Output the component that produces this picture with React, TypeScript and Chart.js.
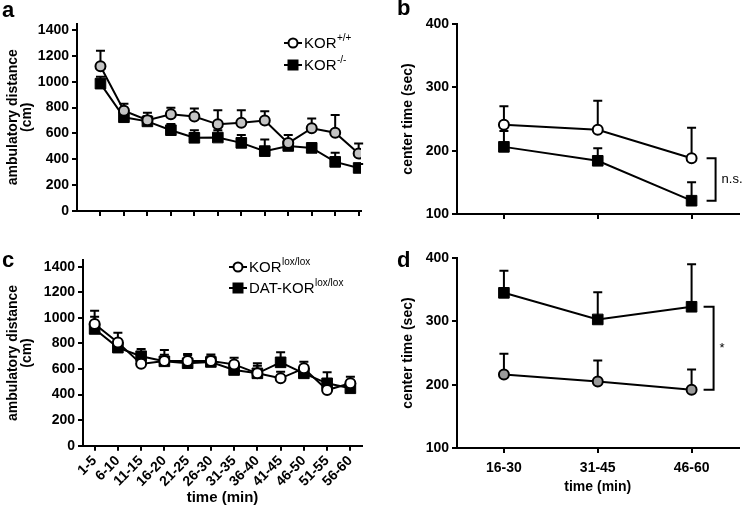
import React, { useEffect, useRef } from 'react';
import { Chart, registerables } from 'chart.js';

Chart.register(...registerables);

const FONT = '"Liberation Sans", Arial, Helvetica, sans-serif';

// ---------- data ----------
const intervals5 = ['1-5', '6-10', '11-15', '16-20', '21-25', '26-30', '31-35', '36-40', '41-45', '46-50', '51-55', '56-60'];
const intervals15 = ['16-30', '31-45', '46-60'];
const distTicks = [0, 200, 400, 600, 800, 1000, 1200, 1400];
const centerTicks = [100, 200, 300, 400];

// panel a: ambulatory distance, KOR+/+ vs KOR-/-
const korWtDist = [1120, 775, 702, 748, 730, 670, 682, 700, 525, 640, 605, 444];
const korWtDistSem = [120, 55, 58, 50, 63, 110, 98, 72, 62, 76, 137, 78];
const korKoDist = [985, 725, 693, 625, 566, 568, 527, 463, 503, 488, 380, 333];
const korKoDistSem = [54, 40, 40, 47, 59, 57, 60, 90, 40, 34, 70, 30];

// panel b: center time, KOR+/+ vs KOR-/-
const korWtCenter = [241, 233, 188];
const korWtCenterSem = [29, 46, 48];
const korKoCenter = [206, 184, 121];
const korKoCenterSem = [25, 20, 29];

// panel c: ambulatory distance, KORlox/lox vs DAT-KORlox/lox
const floxDist = [952, 808, 640, 662, 662, 662, 636, 566, 527, 605, 435, 488];
const floxDistSem = [104, 76, 40, 50, 55, 52, 52, 78, 52, 52, 40, 52];
const datKoDist = [913, 767, 700, 660, 645, 655, 592, 566, 652, 566, 488, 449];
const datKoDistSem = [96, 40, 56, 88, 62, 45, 40, 60, 78, 40, 86, 40];

// panel d: center time, KORlox/lox vs DAT-KORlox/lox
const floxCenter = [216, 205, 192];
const floxCenterSem = [33, 33, 32];
const datKoCenter = [345, 303, 323];
const datKoCenterSem = [35, 43, 67];

// ---------- helpers ----------
type LegendItem = { x: number; y: number; label: string; sup: string; marker: 'circle' | 'rect'; fill: string };
type Bracket = { idx: number; a: number; b: number; dx1: number; dx2: number; text: string; size: number };
type Annot = { letter: string; lx: number; ly: number; legend: LegendItem[]; bracket?: Bracket };

function errorBarPlugin(sems: number[][]) {
  return {
    id: 'errBars',
    beforeDatasetsDraw(chart: any) {
      const ctx = chart.ctx;
      const yScale = chart.scales.y;
      ctx.save();
      ctx.strokeStyle = '#000';
      ctx.lineWidth = 2;
      sems.forEach((sem, di) => {
        const meta = chart.getDatasetMeta(di);
        const values = chart.data.datasets[di].data;
        meta.data.forEach((pt: any, i: number) => {
          const raw = values[i];
          const v = typeof raw === 'number' ? raw : raw.y;
          const yTop = yScale.getPixelForValue(v + sem[i]);
          ctx.beginPath();
          ctx.moveTo(pt.x, pt.y);
          ctx.lineTo(pt.x, yTop);
          ctx.moveTo(pt.x - 4.5, yTop);
          ctx.lineTo(pt.x + 4.5, yTop);
          ctx.stroke();
        });
      });
      ctx.restore();
    },
  };
}

function annotPlugin(a: Annot) {
  return {
    id: 'annot',
    afterDraw(chart: any) {
      const ctx = chart.ctx;
      ctx.save();
      ctx.fillStyle = '#000';
      ctx.font = `bold 22px ${FONT}`;
      ctx.textBaseline = 'alphabetic';
      ctx.textAlign = 'left';
      ctx.fillText(a.letter, a.lx, a.ly);
      a.legend.forEach((item) => {
        ctx.strokeStyle = '#000';
        ctx.lineWidth = 2;
        ctx.beginPath();
        ctx.moveTo(item.x - 9, item.y);
        ctx.lineTo(item.x + 9, item.y);
        ctx.stroke();
        if (item.marker === 'circle') {
          ctx.beginPath();
          ctx.arc(item.x, item.y, 4.5, 0, Math.PI * 2);
          ctx.fillStyle = item.fill;
          ctx.fill();
          ctx.stroke();
        } else {
          ctx.fillStyle = '#000';
          ctx.fillRect(item.x - 5.5, item.y - 5.5, 11, 11);
        }
        ctx.fillStyle = '#000';
        ctx.font = `15px ${FONT}`;
        ctx.textBaseline = 'middle';
        const tx = item.x + 11;
        ctx.fillText(item.label, tx, item.y + 1);
        const w = ctx.measureText(item.label).width;
        ctx.font = `10px ${FONT}`;
        ctx.fillText(item.sup, tx + w + 0.5, item.y - 5);
      });
      if (a.bracket) {
        const br = a.bracket;
        const pa = chart.getDatasetMeta(br.a).data[br.idx];
        const pb = chart.getDatasetMeta(br.b).data[br.idx];
        const x1 = pa.x + br.dx1;
        const x2 = pa.x + br.dx2;
        ctx.strokeStyle = '#000';
        ctx.lineWidth = 2;
        ctx.beginPath();
        ctx.moveTo(x1, pa.y);
        ctx.lineTo(x2, pa.y);
        ctx.lineTo(x2, pb.y);
        ctx.lineTo(x1, pb.y);
        ctx.stroke();
        ctx.fillStyle = '#000';
        ctx.font = `${br.size}px ${FONT}`;
        ctx.textBaseline = 'middle';
        ctx.fillText(br.text, x2 + 6, (pa.y + pb.y) / 2);
      }
      ctx.restore();
    },
  };
}

const axisGrid = { drawOnChartArea: false, drawTicks: true, tickLength: 5, color: '#000', lineWidth: 2 };
const axisBorder = { display: true, color: '#000', width: 2 };

function yAxis(min: number, max: number, ticks: number[], width: number, title: string | string[]) {
  return {
    type: 'linear',
    min,
    max,
    afterBuildTicks: (s: any) => {
      s.ticks = ticks.map((v) => ({ value: v }));
    },
    afterFit: (s: any) => {
      s.width = width;
    },
    grid: axisGrid,
    border: axisBorder,
    ticks: {
      color: '#000',
      font: { family: FONT, size: 14, weight: 'bold' },
      padding: 3,
      callback: (v: any) => String(v),
    },
    title: {
      display: true,
      text: title,
      color: '#000',
      font: { family: FONT, size: 14, weight: 'bold', lineHeight: 1 },
      padding: 0,
    },
  };
}

function circleSet(label: string, data: any[], fill: string) {
  return {
    label,
    data,
    borderColor: '#000',
    borderWidth: 2,
    pointStyle: 'circle',
    pointRadius: 5,
    pointBorderWidth: 2,
    pointBackgroundColor: fill,
    pointBorderColor: '#000',
    tension: 0,
  };
}

function squareSet(label: string, data: any[]) {
  return {
    label,
    data,
    borderColor: '#000',
    borderWidth: 2,
    pointStyle: 'rect',
    pointRadius: 7.5,
    pointBorderWidth: 1,
    pointBackgroundColor: '#000',
    pointBorderColor: '#000',
    tension: 0,
  };
}

const baseOpts = (padding: any) => ({
  animation: false,
  responsive: false,
  devicePixelRatio: 1,
  layout: { padding },
  plugins: { legend: { display: false }, tooltip: { enabled: false } },
});

function buildA(): any {
  return {
    type: 'line',
    data: {
      datasets: [
        circleSet('KOR+/+', korWtDist.map((y, i) => ({ x: i + 1, y })), '#c4c4c4'),
        squareSet('KOR-/-', korKoDist.map((y, i) => ({ x: i + 1, y }))),
      ],
    },
    options: {
      ...baseOpts({ left: 6, top: 23.5, right: 14, bottom: 7 }),
      scales: {
        x: {
          type: 'linear',
          min: 0,
          max: 12.1,
          afterBuildTicks: (s: any) => {
            s.ticks = intervals5.map((_, i) => ({ value: i + 1 }));
          },
          afterFit: (s: any) => {
            s.height = 10;
          },
          grid: axisGrid,
          border: axisBorder,
          ticks: { display: false },
        },
        y: yAxis(0, 1450, distTicks, 71, ['ambulatory distance', '(cm)']),
      },
    },
    plugins: [
      errorBarPlugin([korWtDistSem, korKoDistSem]),
      annotPlugin({
        letter: 'a',
        lx: 2,
        ly: 17,
        legend: [
          { x: 293, y: 43, label: 'KOR', sup: '+/+', marker: 'circle', fill: '#fff' },
          { x: 293, y: 65, label: 'KOR', sup: '-/-', marker: 'rect', fill: '#000' },
        ],
      }),
    ],
  };
}

function buildB(): any {
  return {
    type: 'line',
    data: {
      labels: intervals15,
      datasets: [circleSet('KOR+/+', korWtCenter, '#fff'), squareSet('KOR-/-', korKoCenter)],
    },
    options: {
      ...baseOpts({ left: 26, top: 24, right: 7, bottom: 4 }),
      scales: {
        x: {
          type: 'category',
          offset: true,
          afterFit: (s: any) => {
            s.height = 10;
          },
          grid: { ...axisGrid, offset: false },
          border: axisBorder,
          ticks: { display: false },
        },
        y: yAxis(100, 400, centerTicks, 56, 'center time (sec)'),
      },
    },
    plugins: [
      errorBarPlugin([korWtCenterSem, korKoCenterSem]),
      annotPlugin({
        letter: 'b',
        lx: 22,
        ly: 15,
        legend: [],
        bracket: { idx: 2, a: 0, b: 1, dx1: 15, dx2: 24, text: 'n.s.', size: 13 },
      }),
    ],
  };
}

function buildC(): any {
  return {
    type: 'line',
    data: {
      labels: intervals5,
      datasets: [circleSet('KORlox/lox', floxDist, '#fff'), squareSet('DAT-KORlox/lox', datKoDist)],
    },
    options: {
      ...baseOpts({ left: 6, top: 32.3, right: 13, bottom: 8 }),
      scales: {
        x: {
          type: 'category',
          offset: true,
          afterFit: (s: any) => {
            s.height = 59.3;
          },
          grid: { ...axisGrid, offset: false },
          border: axisBorder,
          ticks: {
            color: '#000',
            font: { family: FONT, size: 14, weight: 'bold' },
            minRotation: 45,
            maxRotation: 45,
            autoSkip: false,
            padding: 2,
          },
          title: {
            display: true,
            text: 'time (min)',
            color: '#000',
            font: { family: FONT, size: 15, weight: 'bold', lineHeight: 1 },
            padding: 0,
          },
        },
        y: yAxis(0, 1450, distTicks, 77, ['ambulatory distance', '(cm)']),
      },
    },
    plugins: [
      errorBarPlugin([floxDistSem, datKoDistSem]),
      annotPlugin({
        letter: 'c',
        lx: 2,
        ly: 39,
        legend: [
          { x: 238, y: 39, label: 'KOR', sup: 'lox/lox', marker: 'circle', fill: '#fff' },
          { x: 238, y: 60, label: 'DAT-KOR', sup: 'lox/lox', marker: 'rect', fill: '#000' },
        ],
      }),
    ],
  };
}

function buildD(): any {
  return {
    type: 'line',
    data: {
      labels: intervals15,
      datasets: [circleSet('KORlox/lox', floxCenter, '#9a9a9a'), squareSet('DAT-KORlox/lox', datKoCenter)],
    },
    options: {
      ...baseOpts({ left: 26, top: 30, right: 5, bottom: 19 }),
      scales: {
        x: {
          type: 'category',
          offset: true,
          afterFit: (s: any) => {
            s.height = 46;
          },
          grid: { ...axisGrid, offset: false },
          border: axisBorder,
          ticks: { color: '#000', font: { family: FONT, size: 14, weight: 'bold' }, padding: 7 },
          title: {
            display: true,
            text: 'time (min)',
            color: '#000',
            font: { family: FONT, size: 14, weight: 'bold', lineHeight: 1 },
            padding: 0,
          },
        },
        y: yAxis(100, 400, centerTicks, 56, 'center time (sec)'),
      },
    },
    plugins: [
      errorBarPlugin([floxCenterSem, datKoCenterSem]),
      annotPlugin({
        letter: 'd',
        lx: 22,
        ly: 39,
        legend: [],
        bracket: { idx: 2, a: 1, b: 0, dx1: 12, dx2: 22, text: '*', size: 13 },
      }),
    ],
  };
}

function Panel(props: { left: number; top: number; width: number; height: number; build: () => any }) {
  const ref = useRef<HTMLCanvasElement>(null);
  useEffect(() => {
    const chart = new Chart(ref.current as HTMLCanvasElement, props.build());
    return () => chart.destroy();
  }, []);
  return (
    <canvas
      ref={ref}
      width={props.width}
      height={props.height}
      style={{ position: 'absolute', left: props.left, top: props.top, width: props.width, height: props.height }}
    />
  );
}

export default function App() {
  return (
    <div style={{ position: 'fixed', left: 0, top: 0, width: 747, height: 513, background: '#fff', overflow: 'hidden' }}>
      <Panel left={0} top={0} width={375} height={228} build={buildA} />
      <Panel left={375} top={0} width={372} height={228} build={buildB} />
      <Panel left={0} top={228} width={375} height={285} build={buildC} />
      <Panel left={375} top={228} width={372} height={285} build={buildD} />
    </div>
  );
}
